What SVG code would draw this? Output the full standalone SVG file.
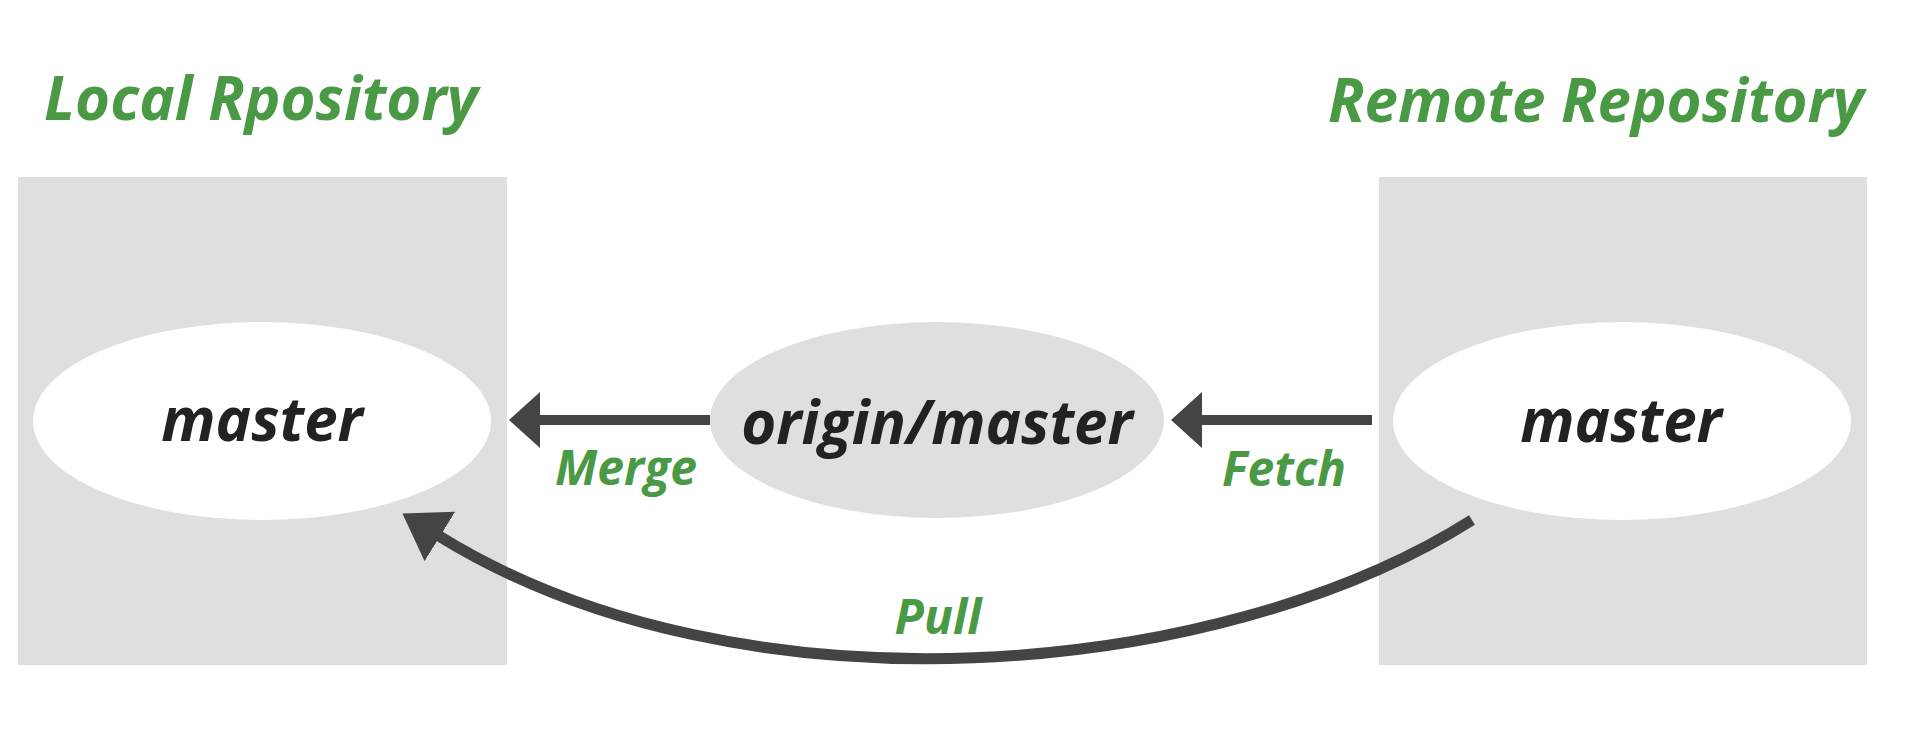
<svg xmlns="http://www.w3.org/2000/svg" width="1920" height="744" viewBox="0 0 1920 744">
<style>
.bg{fill:#ffffff}
.repo{fill:#dfdfdf}
.br{fill:#ffffff}
.tr{fill:#dfdfdf}
.t{font-family:"Open Sans","Noto Sans","DejaVu Sans",sans-serif;font-style:italic;font-weight:bold}
.head{fill:#4a9a45;font-size:60px}
.node{fill:#222222;font-size:60px;text-anchor:middle}
.lab{fill:#4a9a45;font-size:48px}
.conn{fill:none;stroke:#444444;stroke-width:10}
.pull{stroke-width:11}
</style>
<defs>
<marker id="ah" markerUnits="userSpaceOnUse" markerWidth="31" markerHeight="56" viewBox="0 0 31 56" refX="1" refY="28" orient="auto">
<path d="M0,0 L31,28 L0,56 Z" fill="#444444"/>
</marker>
<marker id="ahp" markerUnits="userSpaceOnUse" markerWidth="44" markerHeight="58" viewBox="0 0 44 58" refX="1" refY="29" orient="auto">
<path d="M0,0 L44,29 L0,58 Z" fill="#444444"/>
</marker>
</defs>
<rect class="bg" x="0" y="0" width="1920" height="744"/>
<g id="local-repo">
<rect class="repo" x="18" y="177" width="489" height="488"/>
<text class="t head" x="44" y="120">Local Rpository</text>
</g>
<g id="remote-repo">
<rect class="repo" x="1379" y="177" width="488" height="488"/>
<text class="t head" x="1864" y="122" text-anchor="end">Remote Repository</text>
</g>
<g id="local-master">
<ellipse class="br" cx="262" cy="421" rx="229" ry="99"/>
<text class="t node" x="262" y="441">master</text>
</g>
<g id="origin-master">
<ellipse class="tr" cx="937" cy="420" rx="227" ry="98"/>
<text class="t node" x="937" y="444">origin/master</text>
</g>
<g id="remote-master">
<ellipse class="br" cx="1622" cy="421" rx="229" ry="99"/>
<text class="t node" x="1621" y="442">master</text>
</g>
<g id="connectors">
<path class="conn" d="M710,420 L539,420" marker-end="url(#ah)"/>
<path class="conn" d="M1372,420 L1201,420" marker-end="url(#ah)"/>
<path class="conn pull" d="M1472,520 C1220,680 740,722 439,536" marker-end="url(#ahp)"/>
<text class="t lab" x="555" y="485">Merge</text>
<text class="t lab" x="1222" y="486">Fetch</text>
<text class="t lab" x="938" y="634" text-anchor="middle">Pull</text>
</g>
</svg>
